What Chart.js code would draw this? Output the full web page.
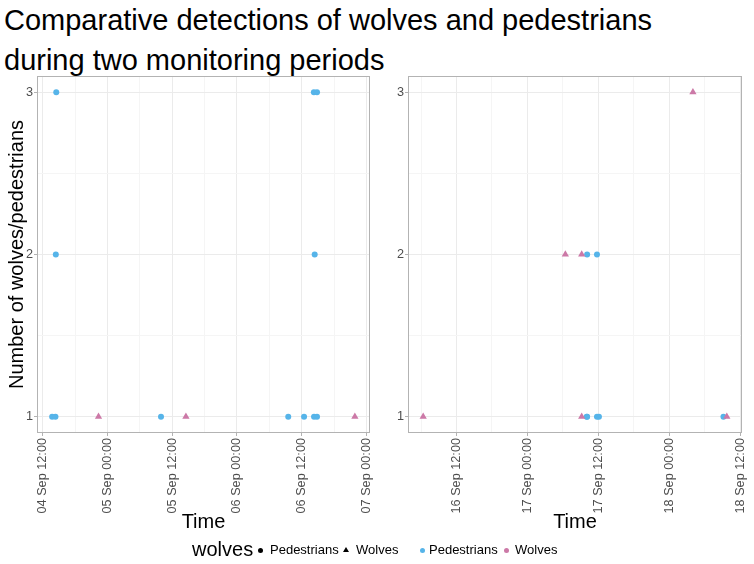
<!DOCTYPE html>
<html>
<head>
<meta charset="utf-8">
<script src="https://cdn.jsdelivr.net/npm/chart.js@4.4.1/dist/chart.umd.min.js"></script>
<style>
  html, body { margin: 0; padding: 0; background: #fff; }
  body { width: 754px; height: 564px; overflow: hidden; position: relative; font-family: "Liberation Sans", Arial, sans-serif; }
  #title { position: absolute; left: 4px; top: 0px; font-size: 29px; line-height: 40px; color: #000; white-space: nowrap; }
  canvas { position: absolute; top: 0; }
  #c1 { left: 0; }
  #c2 { left: 377px; }
  .lg { position: absolute; line-height: 1; white-space: nowrap; color: #000; }
  .dot { position: absolute; width: 5px; height: 5px; border-radius: 50%; }
  .tri { position: absolute; width: 0; height: 0; border-left: 3px solid transparent; border-right: 3px solid transparent; border-bottom: 5px solid #000; }
</style>
</head>
<body>
<div id="title">Comparative detections of wolves and pedestrians<br>during two monitoring periods</div>
<canvas id="c1" width="380" height="564"></canvas>
<canvas id="c2" width="377" height="564"></canvas>

<span class="lg" style="left:192px; top:539px; font-size:20px;">wolves</span>
<div class="dot" style="left:258px; top:548px; background:#000;"></div>
<span class="lg" style="left:270px; top:543px; font-size:13px;">Pedestrians</span>
<div class="tri" style="left:343px; top:547px;"></div>
<span class="lg" style="left:356px; top:543px; font-size:13px;">Wolves</span>
<div class="dot" style="left:420px; top:548px; background:#56B4E9;"></div>
<span class="lg" style="left:429px; top:543px; font-size:13px;">Pedestrians</span>
<div class="dot" style="left:504px; top:548px; background:#CC79A7;"></div>
<span class="lg" style="left:515px; top:543px; font-size:13px;">Wolves</span>

<script>
// ---------------- data ----------------
const leftPedestrianTimes = ["2020-09-04T13:44","2020-09-04T14:21","2020-09-04T14:25","2020-09-04T14:30",
  "2020-09-05T09:55","2020-09-06T09:30","2020-09-06T12:26","2020-09-06T14:17","2020-09-06T14:50",
  "2020-09-06T14:24","2020-09-06T14:15","2020-09-06T14:50"];
const leftPedestrianCounts = [1,1,2,3,1,1,1,1,1,2,3,3];
const leftWolfTimes = ["2020-09-04T22:20","2020-09-05T14:32","2020-09-06T21:51"];
const leftWolfCounts = [1,1,1];

const rightPedestrianTimes = ["2020-09-17T10:02","2020-09-17T10:06","2020-09-17T11:46","2020-09-17T12:06",
  "2020-09-17T10:06","2020-09-17T11:46","2020-09-18T09:10"];
const rightPedestrianCounts = [1,1,1,1,2,2,1];
const rightWolfTimes = ["2020-09-16T06:22","2020-09-17T06:25","2020-09-17T09:11","2020-09-17T09:11",
  "2020-09-18T04:00","2020-09-18T09:44"];
const rightWolfCounts = [1,2,2,1,3,1];

const yTickValues = [1,2,3];
const leftTimeTicks = ["2020-09-04T12:00","2020-09-05T00:00","2020-09-05T12:00","2020-09-06T00:00","2020-09-06T12:00","2020-09-07T00:00"];
const rightTimeTicks = ["2020-09-16T12:00","2020-09-17T00:00","2020-09-17T12:00","2020-09-18T00:00","2020-09-18T12:00"];

const seriesNames = ["Pedestrians","Wolves"];
// --------------------------------------

const PED_COLOR = '#56B4E9', WOLF_COLOR = '#CC79A7';
const MONTHS = ['Jan','Feb','Mar','Apr','May','Jun','Jul','Aug','Sep','Oct','Nov','Dec'];
const FONT = '"Liberation Sans", Arial, sans-serif';
const toMs = s => Date.parse(s + ':00Z');
const pad2 = n => String(n).padStart(2,'0');
const fmt = ms => { const d = new Date(ms); return pad2(d.getUTCDate()) + ' ' + MONTHS[d.getUTCMonth()] + ' ' + pad2(d.getUTCHours()) + ':' + pad2(d.getUTCMinutes()); };
const pts = (times, counts) => times.map((t,i) => ({x: toMs(t), y: counts[i]}));
function expand(vals){ const mn = Math.min(...vals), mx = Math.max(...vals), r = mx - mn; return [mn - 0.05*r, mx + 0.05*r]; }

const panelBorder = {
  id: 'panelBorder',
  afterDatasetsDraw(chart){
    const a = chart.chartArea, ctx = chart.ctx;
    ctx.save();
    ctx.strokeStyle = '#B3B3B3'; ctx.lineWidth = 1;
    ctx.strokeRect(Math.round(a.left)+0.5, Math.round(a.top)+0.5, Math.round(a.right-a.left)-1, Math.round(a.bottom-a.top)-1);
    ctx.restore();
  }
};

function makeChart(id, pedT, pedC, wolfT, wolfC, majorStrs, yAxisWidth, padLeft, padRight, showYTitle){
  const ped = pts(pedT, pedC), wolf = pts(wolfT, wolfC);
  const xr = expand(ped.concat(wolf).map(p => p.x));
  const yr = expand(ped.concat(wolf).map(p => p.y));
  const majors = majorStrs.map(toMs);
  const step = (majors[1] - majors[0]) / 2;
  let start = majors[0];
  while (start - step >= xr[0]) start -= step;
  const xAll = [];
  for (let v = start; v <= xr[1]; v += step) xAll.push(v);
  const yMajors = yTickValues;
  const yAll = [];
  for (let i = 0; i < yMajors.length; i++) { yAll.push(yMajors[i]); if (i < yMajors.length-1) yAll.push((yMajors[i]+yMajors[i+1])/2); }
  const isXMaj = v => majors.includes(v);
  const isYMaj = v => yMajors.includes(v);

  return new Chart(document.getElementById(id), {
    type: 'scatter',
    data: {
      datasets: [
        { label: seriesNames[1], data: wolf, pointStyle: 'triangle', pointRadius: 4.2, pointHoverRadius: 4.2,
          backgroundColor: WOLF_COLOR, borderColor: WOLF_COLOR, borderWidth: 0 },
        { label: seriesNames[0], data: ped, pointStyle: 'circle', pointRadius: 3, pointHoverRadius: 3,
          backgroundColor: PED_COLOR, borderColor: PED_COLOR, borderWidth: 0 }
      ]
    },
    options: {
      responsive: false, animation: false, devicePixelRatio: 1,
      layout: { padding: { top: 76, bottom: 30, left: padLeft, right: padRight } },
      plugins: { legend: { display: false }, tooltip: { enabled: false } },
      scales: {
        x: {
          type: 'linear', min: xr[0], max: xr[1], offset: false,
          afterBuildTicks: s => { s.ticks = xAll.map(v => ({value: v})); },
          afterFit: s => { s.height = 101; s.paddingLeft = 0; s.paddingRight = 0; },
          border: { display: false },
          grid: { color: c => isXMaj(c.tick.value) ? '#EBEBEB' : '#F5F5F5', lineWidth: 1,
                  drawTicks: true, tickLength: 3, tickWidth: 1,
                  tickColor: c => isXMaj(c.tick.value) ? '#B3B3B3' : 'rgba(0,0,0,0)' },
          ticks: { autoSkip: false, minRotation: 90, maxRotation: 90, padding: 2, color: '#4D4D4D',
                   font: { family: FONT, size: 12.7 },
                   callback: v => isXMaj(v) ? fmt(v) : '' },
          title: { display: true, text: 'Time', color: '#000', font: { family: FONT, size: 20 }, padding: { top: 0, bottom: 0 } }
        },
        y: {
          type: 'linear', min: yr[0], max: yr[1],
          afterBuildTicks: s => { s.ticks = yAll.map(v => ({value: v})); },
          afterFit: s => { s.width = yAxisWidth; s.paddingTop = 0; s.paddingBottom = 0; },
          border: { display: false },
          grid: { color: c => isYMaj(c.tick.value) ? '#EBEBEB' : '#F5F5F5', lineWidth: 1,
                  drawTicks: true, tickLength: 3, tickWidth: 1,
                  tickColor: c => isYMaj(c.tick.value) ? '#B3B3B3' : 'rgba(0,0,0,0)' },
          ticks: { autoSkip: false, padding: 1, color: '#4D4D4D', font: { family: FONT, size: 12.7 },
                   callback: v => isYMaj(v) ? String(v) : '' },
          title: { display: showYTitle, text: 'Number of wolves/pedestrians', color: '#000',
                   font: { family: FONT, size: 20 }, padding: { top: 5, bottom: 0 } }
        }
      }
    },
    plugins: [panelBorder]
  });
}

makeChart('c1', leftPedestrianTimes, leftPedestrianCounts, leftWolfTimes, leftWolfCounts, leftTimeTicks, 37, 0, 10, true);
makeChart('c2', rightPedestrianTimes, rightPedestrianCounts, rightWolfTimes, rightWolfCounts, rightTimeTicks, 31, 0, 12, false);
</script>
</body>
</html>
